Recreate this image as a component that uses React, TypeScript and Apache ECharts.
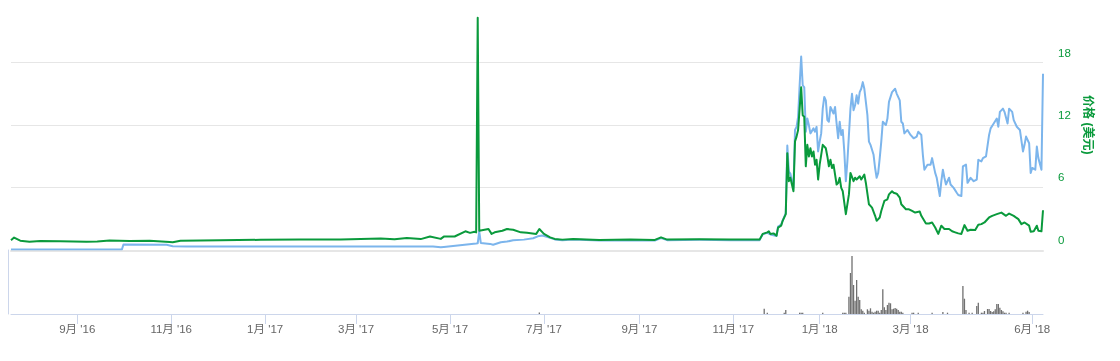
import React, { useEffect, useRef } from 'react';
import * as echarts from 'echarts';

// ---- categories (trading days; two ranges absent in the source data) ----
const START_DATE = '2016-07-20';
const END_DATE = '2018-06-08';
const MISSING_RANGES: [string, string][] = [
  ['2017-12-01', '2017-12-05'],
  ['2018-04-01', '2018-04-13'],
];
const TICK_DATES = [
  '2016-09-01', '2016-11-01', '2017-01-01', '2017-03-01', '2017-05-01', '2017-07-01',
  '2017-09-01', '2017-11-01', '2018-01-01', '2018-03-01', '2018-06-01',
];

// ---- price (USD), green ----
const priceData: [string, number][] = [
  ['2016-07-20', 0.9], ['2016-07-22', 1.15], ['2016-07-26', 0.85], ['2016-08-01', 0.75], ['2016-08-08', 0.82],
  ['2016-08-21', 0.8], ['2016-09-07', 0.75], ['2016-09-14', 0.78], ['2016-09-22', 0.86], ['2016-10-05', 0.82],
  ['2016-10-18', 0.85], ['2016-10-31', 0.72], ['2016-11-02', 0.7], ['2016-11-07', 0.85], ['2016-12-03', 0.9],
  ['2016-12-29', 0.93], ['2017-01-24', 0.95], ['2017-02-19', 0.95], ['2017-03-17', 1.05], ['2017-03-26', 0.98],
  ['2017-04-03', 1.1], ['2017-04-12', 1.0], ['2017-04-18', 1.25], ['2017-04-25', 1.02], ['2017-04-27', 1.24],
  ['2017-05-04', 1.25], ['2017-05-11', 1.75], ['2017-05-14', 1.6], ['2017-05-17', 1.7], ['2017-05-18', 1.65],
  ['2017-05-19', 22.3], ['2017-05-20', 1.8], ['2017-05-26', 1.97], ['2017-05-28', 1.5], ['2017-05-30', 1.65],
  ['2017-06-04', 1.8], ['2017-06-07', 1.97], ['2017-06-11', 1.9], ['2017-06-16', 1.65], ['2017-06-20', 1.6],
  ['2017-06-26', 1.5], ['2017-06-28', 1.97], ['2017-07-01', 1.5], ['2017-07-05', 1.17], ['2017-07-08', 1.02],
  ['2017-07-13', 0.95], ['2017-07-20', 1.0], ['2017-08-06', 0.92], ['2017-08-26', 0.95], ['2017-09-11', 0.92],
  ['2017-09-15', 1.17], ['2017-09-19', 0.95], ['2017-10-10', 0.98], ['2017-10-30', 0.95], ['2017-11-18', 0.95],
  ['2017-11-20', 1.5], ['2017-11-23', 1.65], ['2017-11-24', 1.75], ['2017-11-25', 1.5], ['2017-11-27', 1.55],
  ['2017-11-29', 1.33], ['2017-11-30', 2.1], ['2017-12-07', 2.3], ['2017-12-08', 2.76], ['2017-12-10', 3.4],
  ['2017-12-11', 9.27], ['2017-12-12', 6.57], ['2017-12-13', 6.9], ['2017-12-14', 6.25], ['2017-12-15', 5.6],
  ['2017-12-16', 10.4], ['2017-12-17', 10.86], ['2017-12-18', 11.5], ['2017-12-19', 13.55], ['2017-12-20', 15.6],
  ['2017-12-21', 12.9], ['2017-12-22', 12.76], ['2017-12-23', 8.0], ['2017-12-24', 10.07], ['2017-12-25', 8.95],
  ['2017-12-26', 9.74], ['2017-12-27', 8.95], ['2017-12-28', 9.43], ['2017-12-29', 8.16], ['2017-12-30', 8.63],
  ['2017-12-31', 6.73], ['2018-01-01', 8.16], ['2018-01-02', 9.1], ['2018-01-03', 10.07], ['2018-01-05', 9.74],
  ['2018-01-06', 8.95], ['2018-01-07', 8.0], ['2018-01-08', 8.63], ['2018-01-09', 7.84], ['2018-01-10', 8.16],
  ['2018-01-12', 6.25], ['2018-01-13', 6.4], ['2018-01-14', 6.89], ['2018-01-15', 5.93], ['2018-01-16', 5.6],
  ['2018-01-18', 3.4], ['2018-01-20', 5.3], ['2018-01-21', 7.37], ['2018-01-23', 6.57], ['2018-01-24', 6.9],
  ['2018-01-25', 6.73], ['2018-01-27', 7.05], ['2018-01-28', 6.73], ['2018-01-30', 7.2], ['2018-01-31', 6.4],
  ['2018-02-02', 4.35], ['2018-02-04', 4.03], ['2018-02-06', 3.24], ['2018-02-07', 2.76], ['2018-02-09', 3.08],
  ['2018-02-10', 3.71], ['2018-02-12', 4.67], ['2018-02-14', 4.83], ['2018-02-15', 5.3], ['2018-02-17', 5.6],
  ['2018-02-18', 5.46], ['2018-02-20', 5.37], ['2018-02-22', 4.98], ['2018-02-23', 4.35], ['2018-02-26', 3.87],
  ['2018-02-28', 3.87], ['2018-03-02', 3.71], ['2018-03-04', 3.55], ['2018-03-07', 3.65], ['2018-03-08', 3.24],
  ['2018-03-11', 2.5], ['2018-03-13', 2.5], ['2018-03-15', 2.6], ['2018-03-17', 2.12], ['2018-03-19', 1.5],
  ['2018-03-21', 2.29], ['2018-03-23', 1.97], ['2018-03-26', 1.97], ['2018-03-28', 1.75], ['2018-03-30', 1.65],
  ['2018-04-14', 1.55], ['2018-04-16', 1.5], ['2018-04-18', 2.35], ['2018-04-20', 1.8], ['2018-04-22', 1.9],
  ['2018-04-25', 1.87], ['2018-04-27', 2.38], ['2018-04-29', 2.44], ['2018-05-01', 2.6], ['2018-05-04', 3.08],
  ['2018-05-06', 3.24], ['2018-05-09', 3.4], ['2018-05-12', 3.55], ['2018-05-15', 3.24], ['2018-05-17', 3.46],
  ['2018-05-20', 3.24], ['2018-05-23', 2.92], ['2018-05-25', 2.44], ['2018-05-27', 2.6], ['2018-05-30', 2.29],
  ['2018-05-31', 1.71], ['2018-06-02', 1.75], ['2018-06-04', 2.29], ['2018-06-05', 1.8], ['2018-06-07', 1.75],
  ['2018-06-08', 3.78],
];

// ---- comparison series (blue, hidden axis) ----
const compareData: [string, number][] = [
  ['2016-07-20', 0], ['2016-09-30', 0], ['2016-10-01', 0.48], ['2016-10-29', 0.45], ['2016-11-02', 0.32],
  ['2016-11-11', 0.3], ['2017-01-24', 0.28], ['2017-04-20', 0.3], ['2017-04-25', 0.22], ['2017-04-27', 0.25],
  ['2017-05-06', 0.38], ['2017-05-18', 0.58], ['2017-05-19', 0.6], ['2017-05-20', 1.75], ['2017-05-21', 0.63],
  ['2017-05-27', 0.54], ['2017-05-29', 0.45], ['2017-06-03', 0.7], ['2017-06-07', 0.76], ['2017-06-11', 0.89],
  ['2017-06-18', 0.95], ['2017-06-24', 1.08], ['2017-06-27', 1.27], ['2017-06-30', 1.35], ['2017-07-05', 1.12],
  ['2017-07-08', 0.97], ['2017-07-13', 0.9], ['2017-07-20', 0.95], ['2017-08-06', 0.87], ['2017-08-26', 0.9],
  ['2017-09-11', 0.87], ['2017-09-15', 1.1], ['2017-09-19', 0.9], ['2017-10-10', 0.93], ['2017-10-30', 0.9],
  ['2017-11-18', 0.9], ['2017-11-20', 1.45], ['2017-11-23', 1.6], ['2017-11-25', 1.45], ['2017-11-29', 1.3],
  ['2017-11-30', 2.2], ['2017-12-07', 2.4], ['2017-12-08', 2.8], ['2017-12-10', 3.5], ['2017-12-11', 10.0],
  ['2017-12-12', 7.5], ['2017-12-13', 7.3], ['2017-12-14', 6.57], ['2017-12-15', 5.93], ['2017-12-16', 11.5],
  ['2017-12-17', 11.8], ['2017-12-18', 12.76], ['2017-12-19', 15.8], ['2017-12-20', 18.57], ['2017-12-21', 15.8],
  ['2017-12-22', 15.6], ['2017-12-23', 11.33], ['2017-12-24', 12.6], ['2017-12-25', 11.97], ['2017-12-26', 11.17],
  ['2017-12-28', 11.65], ['2017-12-29', 11.33], ['2017-12-30', 11.8], ['2017-12-31', 9.43], ['2018-01-01', 10.38],
  ['2018-01-02', 11.17], ['2018-01-03', 13.55], ['2018-01-04', 14.67], ['2018-01-05', 14.35], ['2018-01-06', 12.45],
  ['2018-01-07', 12.29], ['2018-01-08', 13.71], ['2018-01-10', 13.08], ['2018-01-11', 13.71], ['2018-01-12', 12.12],
  ['2018-01-13', 10.7], ['2018-01-14', 12.29], ['2018-01-15', 11.02], ['2018-01-16', 11.5], ['2018-01-17', 9.43],
  ['2018-01-18', 6.57], ['2018-01-19', 8.48], ['2018-01-21', 13.55], ['2018-01-22', 14.98], ['2018-01-23', 13.4],
  ['2018-01-24', 13.87], ['2018-01-25', 14.83], ['2018-01-26', 14.03], ['2018-01-27', 15.14], ['2018-01-28', 15.46],
  ['2018-01-29', 16.1], ['2018-01-30', 15.46], ['2018-02-01', 12.92], ['2018-02-02', 10.38], ['2018-02-03', 10.07],
  ['2018-02-05', 9.11], ['2018-02-06', 7.84], ['2018-02-07', 6.9], ['2018-02-08', 7.37], ['2018-02-09', 8.79],
  ['2018-02-10', 10.38], ['2018-02-11', 12.29], ['2018-02-13', 11.97], ['2018-02-14', 12.6], ['2018-02-15', 14.2],
  ['2018-02-17', 15.14], ['2018-02-19', 15.46], ['2018-02-20', 15.0], ['2018-02-22', 14.35], ['2018-02-23', 12.29],
  ['2018-02-24', 12.12], ['2018-02-25', 11.17], ['2018-02-27', 11.5], ['2018-03-01', 11.02], ['2018-03-03', 10.7],
  ['2018-03-05', 10.86], ['2018-03-06', 11.33], ['2018-03-08', 11.02], ['2018-03-09', 9.11], ['2018-03-10', 7.68],
  ['2018-03-12', 8.16], ['2018-03-14', 8.16], ['2018-03-15', 8.79], ['2018-03-17', 7.37], ['2018-03-18', 6.9],
  ['2018-03-20', 5.14], ['2018-03-21', 6.57], ['2018-03-22', 7.68], ['2018-03-23', 6.9], ['2018-03-24', 6.25],
  ['2018-03-26', 6.9], ['2018-03-27', 6.25], ['2018-03-29', 5.93], ['2018-03-31', 5.46], ['2018-04-14', 5.24],
  ['2018-04-16', 5.14], ['2018-04-17', 8.0], ['2018-04-19', 8.16], ['2018-04-20', 6.41], ['2018-04-22', 6.89],
  ['2018-04-24', 6.57], ['2018-04-26', 6.73], ['2018-04-27', 8.63], ['2018-04-29', 8.48], ['2018-04-30', 8.79],
  ['2018-05-02', 8.95], ['2018-05-04', 11.02], ['2018-05-05', 11.65], ['2018-05-07', 12.12], ['2018-05-09', 12.6],
  ['2018-05-10', 11.81], ['2018-05-11', 13.24], ['2018-05-13', 13.55], ['2018-05-14', 13.24], ['2018-05-16', 12.12],
  ['2018-05-17', 13.55], ['2018-05-19', 13.24], ['2018-05-20', 12.45], ['2018-05-22', 11.81], ['2018-05-24', 11.5],
  ['2018-05-26', 9.43], ['2018-05-27', 10.07], ['2018-05-28', 10.86], ['2018-05-30', 10.22], ['2018-05-31', 7.37],
  ['2018-06-01', 7.84], ['2018-06-03', 7.68], ['2018-06-04', 9.9], ['2018-06-05', 8.79], ['2018-06-07', 7.68],
  ['2018-06-08', 16.9],
];

// ---- volume (relative) ----
const volumeData: [string, number][] = [
  ['2017-06-28', 1.5], ['2017-11-21', 5.3], ['2017-11-23', 1.3], ['2017-12-09', 1.3], ['2017-12-10', 4],
  ['2017-12-19', 1.3], ['2017-12-20', 1.3], ['2017-12-21', 1.3], ['2018-01-03', 1.3], ['2018-01-16', 1.3],
  ['2018-01-17', 1.3], ['2018-01-18', 1.3], ['2018-01-20', 17.3], ['2018-01-21', 41], ['2018-01-22', 58],
  ['2018-01-23', 29], ['2018-01-24', 13.3], ['2018-01-25', 34], ['2018-01-26', 17.3], ['2018-01-27', 14],
  ['2018-01-28', 4.7], ['2018-01-29', 3.3], ['2018-01-30', 1.3], ['2018-02-01', 4.7], ['2018-02-02', 3.3],
  ['2018-02-03', 5.7], ['2018-02-04', 2.3], ['2018-02-05', 1.3], ['2018-02-06', 2.3], ['2018-02-07', 3.3],
  ['2018-02-08', 3.3], ['2018-02-09', 1.3], ['2018-02-10', 4], ['2018-02-11', 24.7], ['2018-02-12', 6.7],
  ['2018-02-13', 4], ['2018-02-14', 9], ['2018-02-15', 11.3], ['2018-02-16', 10.7], ['2018-02-17', 4.7],
  ['2018-02-18', 5.3], ['2018-02-19', 6], ['2018-02-20', 5.3], ['2018-02-21', 4], ['2018-02-22', 2.3],
  ['2018-02-23', 2.3], ['2018-02-24', 1.3], ['2018-03-02', 1.3], ['2018-03-03', 1.3], ['2018-03-06', 1.3],
  ['2018-03-15', 1.3], ['2018-03-22', 2], ['2018-03-25', 1.3], ['2018-04-17', 28], ['2018-04-18', 15.3],
  ['2018-04-19', 4], ['2018-04-21', 1.3], ['2018-04-23', 1.3], ['2018-04-26', 8], ['2018-04-27', 11.3],
  ['2018-04-29', 1.3], ['2018-04-30', 1.3], ['2018-05-01', 3], ['2018-05-03', 5], ['2018-05-04', 5],
  ['2018-05-05', 3], ['2018-05-06', 2], ['2018-05-07', 2.7], ['2018-05-08', 4.7], ['2018-05-09', 10],
  ['2018-05-10', 10], ['2018-05-11', 6.3], ['2018-05-12', 4], ['2018-05-13', 2.7], ['2018-05-14', 1.3],
  ['2018-05-15', 1.3], ['2018-05-17', 1.3], ['2018-05-26', 1.3], ['2018-05-28', 2.3], ['2018-05-29', 3.3],
  ['2018-05-30', 2],
];

const AXIS_NAME = '价格 (美元)';

function buildCategories(): string[] {
  const out: string[] = [];
  const d = new Date(START_DATE + 'T00:00:00Z');
  const end = new Date(END_DATE + 'T00:00:00Z');
  while (d.getTime() <= end.getTime()) {
    const s = d.toISOString().slice(0, 10);
    if (!MISSING_RANGES.some(([a, b]) => s >= a && s <= b)) out.push(s);
    d.setUTCDate(d.getUTCDate() + 1);
  }
  return out;
}

function formatTick(v: string): string {
  const m = parseInt(v.slice(5, 7), 10);
  return `${m}月 '${v.slice(2, 4)}`;
}

const GREEN = '#0a9a3c';
const BLUE = '#7cb5ec';
const GRID_GRAY = '#e6e6e6';
const NONE = 'rgba(0,0,0,0)';
const FONT = '"Liberation Sans", Arial, "Noto Sans CJK SC", sans-serif';

export default function App() {
  const ref = useRef<HTMLDivElement>(null);
  useEffect(() => {
    if (!ref.current) return;
    const chart = echarts.init(ref.current, undefined, { renderer: 'svg' });
    const cats = buildCategories();
    const tickSet = new Set(TICK_DATES);
    const showTick = (_i: number, v: string) => tickSet.has(v);
    chart.setOption({
      animation: false,
      textStyle: { fontFamily: FONT },
      grid: [
        { left: 11, right: 77, top: -4, height: 253.5 },
        { left: 11, right: 77, top: 250, height: 64 },
      ],
      xAxis: [
        {
          type: 'category', gridIndex: 0, data: cats, boundaryGap: false, offset: 1.5,
          axisLabel: { show: false }, axisTick: { show: false },
          axisLine: { show: true, onZero: false, lineStyle: { color: GRID_GRAY, width: 2 } },
          splitLine: { show: false },
        },
        {
          type: 'category', gridIndex: 1, data: cats, boundaryGap: false,
          axisLine: { show: true, onZero: false, lineStyle: { color: '#ccd6eb', width: 1 } },
          axisTick: { show: true, interval: showTick, length: 10, lineStyle: { color: '#ccd6eb' } },
          axisLabel: { interval: showTick, formatter: formatTick, color: '#666666', fontSize: 11.5, margin: 9, fontFamily: FONT },
          splitLine: { show: false },
        },
      ],
      yAxis: [
        {
          type: 'value', gridIndex: 0, position: 'right', min: 0, max: 24, interval: 6,
          axisLine: { show: false }, axisTick: { show: false },
          splitLine: {
            show: true,
            lineStyle: { color: [NONE, GRID_GRAY, GRID_GRAY, GRID_GRAY, NONE], width: 1 },
          },
          axisLabel: {
            showMaxLabel: false, color: GREEN, fontSize: 11.5, margin: 15,
            verticalAlign: 'bottom', align: 'left', padding: [0, 0, 4, 0], fontFamily: FONT,
          },
          name: AXIS_NAME, nameLocation: 'middle', nameRotate: -90, nameGap: 32,
          nameTextStyle: { color: GREEN, fontWeight: 'bold', fontSize: 12, fontFamily: FONT },
        },
        { type: 'value', gridIndex: 0, show: false, min: 0, max: 24, splitLine: { show: false } },
        {
          type: 'value', gridIndex: 1, min: 0, max: 64, position: 'left', offset: 3,
          axisLine: { show: true, lineStyle: { color: '#ccd6eb' } },
          axisTick: { show: false }, axisLabel: { show: false }, splitLine: { show: false },
        },
      ],
      series: [
        {
          name: 'compare', type: 'line', xAxisIndex: 0, yAxisIndex: 1, data: compareData,
          showSymbol: false, symbol: 'none', z: 2,
          lineStyle: { color: BLUE, width: 2, join: 'round' },
        },
        {
          name: AXIS_NAME, type: 'line', xAxisIndex: 0, yAxisIndex: 0, data: priceData,
          showSymbol: false, symbol: 'none', z: 3,
          lineStyle: { color: GREEN, width: 2, join: 'round' },
        },
        {
          name: 'volume', type: 'bar', xAxisIndex: 1, yAxisIndex: 2, data: volumeData,
          barWidth: 1.3, itemStyle: { color: '#707070' },
        },
      ],
    });
    return () => chart.dispose();
  }, []);
  return <div ref={ref} style={{ position: 'fixed', left: 0, top: 0, width: 1120, height: 361 }} />;
}
